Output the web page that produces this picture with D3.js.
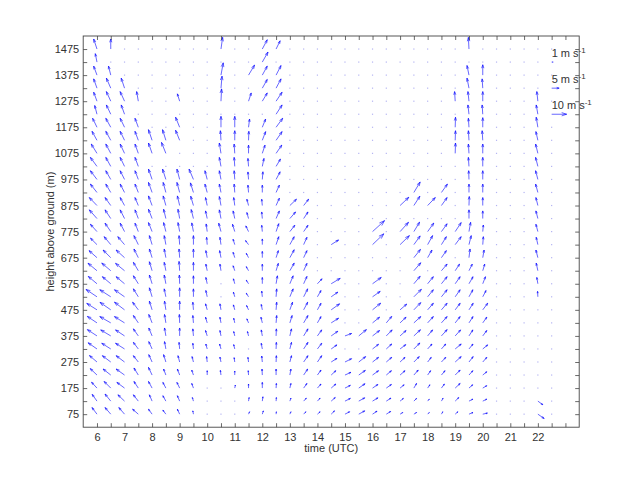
<!DOCTYPE html>
<html><head><meta charset="utf-8">
<script src="https://cdn.jsdelivr.net/npm/d3@7"></script>
<style>
body{margin:0;background:#fff}
text{font-family:"Liberation Sans",Arial,Helvetica,sans-serif}
</style>
</head><body>
<svg id="chart" width="640" height="480"></svg>
<script>
// ---- data ----
const times = [6,6.5,7,7.5,8,8.5,9,9.5,10,10.5,11,11.5,12,12.5,13,13.5,14,14.5,15,15.5,16,16.5,17,17.5,18,18.5,19,19.5,20,20.5,21,21.5,22,22.5];
const heights = [75,125,175,225,275,325,375,425,475,525,575,625,675,725,775,825,875,925,975,1025,1075,1125,1175,1225,1275,1325,1375,1425,1475];
const _ = null;
// eastward component (m/s), one row per time, heights bottom -> top
const U = [
 [-3.3,-3.2,-3.6,-4.5,-5,-5.9,-6.4,-6.4,-6.8,-7.3,-5.8,-6,-5.3,-4.3,-4.4,-5.1,-5.1,-4.4,-4.4,-4.4,-3.8,-3.3,-2.9,-1.5,-2.2,-2.2,-2.2,-1.1,-2.2],
 [-3.8,-3.8,-4.4,-5.1,-5.6,-6,-6.7,-7.3,-7.2,-7.3,-5.6,-6,-5.1,-4.4,-3.8,-3.8,-3.8,-3.3,-3.3,-3.3,-3.3,-3.3,-3.3,-2.9,-2.9,-2.9,-1.5,_,0],
 [-3.8,-4.4,-5.1,-5.6,-5.6,-6,-6,-6.7,-6.7,-6.7,-5.6,-6,-5.6,-4.5,-2.9,-2.9,-2.9,-2.9,-2.9,-2.9,-2.9,-2.9,-2.9,-2.2,-2.9,-2.2,_,_,_],
 [-3.8,-3.3,-2.9,-2.9,-3.3,-3.3,-3.3,-3.3,-3.8,-3.3,-3.3,-3.3,-2.9,-2.9,-2.2,-2.2,-2.2,-2.2,-2.2,-2.2,-2.2,-2.2,-2.2,_,-1.1,_,_,_,_],
 [-2.4,-1.8,-2.4,-2.4,-2.2,-2.2,-2.2,-2.2,-1.8,-1.8,-1.8,-1.8,-1.8,-1.8,-2.4,-2.4,-2.4,-2.4,-2.4,_,-2.4,-2.4,_,_,_,_,_,_,_],
 [-2,-2,-2,-1.5,-1.5,-0.9,-0.9,-0.9,-0.9,-1.1,-1.1,-1.1,-1.1,-1.1,-1.5,-1.5,-1.8,-1.8,-2.2,_,-2.9,-2.2,_,_,_,_,_,_,_],
 [-1.5,-1.5,-1.8,-1.5,-1.1,-0.4,0,-0.2,0,0,-0.2,-0.4,-0.4,-0.4,-1.1,-1.1,-1.5,-1.8,-1.8,_,_,-2.7,-2.7,_,-1.5,_,_,_,_],
 [-0.4,-0.7,-1.1,-1.1,-0.9,-0.4,-0.4,-0.4,-0.4,0,0,0,0,0,-1.1,-1.5,-1.8,-2,-2.9,_,_,_,_,_,_,_,_,_,_],
 [_,_,_,0,-0.4,-0.9,-1.1,-1.1,-1.1,-0.9,-0.9,-0.9,-0.9,-0.4,-0.7,-1.1,-1.1,-1.5,-1.5,_,_,_,_,_,_,_,_,_,_],
 [_,_,_,-0.4,-0.7,-0.9,-0.7,-0.7,-0.7,_,_,-0.7,-0.9,-0.7,-1.5,-1.1,-1.1,-1.1,-1.1,-1.1,-1.1,-0.4,0,_,0.4,0.7,1.5,_,1.1],
 [_,_,0.4,0,-0.4,-0.7,-0.7,-0.7,-0.9,-0.9,-0.9,-1.1,-1.1,-1.1,-1.5,-1.1,-0.7,-0.4,-0.4,-0.4,-0.4,0,0,_,_,_,_,_,_],
 [0.7,0.4,0,-0.2,-0.4,_,-0.7,-1.1,-1.3,-1.5,-1.5,-1.5,-1.5,-2,-1.8,-1.1,-1.1,-0.4,-0.4,-0.4,0,0.2,0.7,_,1.8,_,4,_,_],
 [0.7,0.4,0,-0.2,-0.4,-0.7,-0.7,-0.9,-0.7,-0.4,0,0,0,0,-0.4,-0.4,-0.4,0,0.4,1.1,1.8,2.2,2.2,_,3.3,3.3,3.3,3.8,3.3],
 [0.2,0.2,0.2,0,0.2,0.2,0.2,0.4,0.4,0.4,0.9,1.5,1.5,1.8,1.8,2.2,2.2,2.2,2.7,2.9,3.8,4,4.4,4,4,3.3,3.3,_,2.7],
 [0.7,0.7,0.7,0.7,1.1,1.1,1.1,1.5,1.8,2.2,2.2,2.9,2.9,2.9,3.3,3.8,4.4,_,_,_,_,_,_,_,_,_,_,_,_],
 [1.5,1.8,2.2,2.7,2.9,2.9,2.9,2.9,2.7,2.7,2.2,2.2,2.2,2.2,2.9,2.9,3.3,_,_,_,_,_,_,_,_,_,_,_,_],
 [1.8,1.8,2.4,2.4,2.9,2.9,2.9,2.4,2.4,2.4,3.1,_,_,_,_,_,_,_,_,_,_,_,_,_,_,_,_,_,_],
 [2.2,2.7,3.1,3.1,3.8,3.8,4.4,4.9,5.6,4.4,6,_,_,4.9,_,_,_,_,_,_,_,_,_,_,_,_,_,_,_],
 [3.1,3.6,3.6,4,4.4,_,4.4,_,_,_,_,_,_,_,_,_,_,_,_,_,_,_,_,_,_,_,_,_,_],
 [4,4,4.2,4.4,4.6,_,5.1,_,_,_,_,_,_,_,_,_,_,_,_,_,_,_,_,_,_,_,_,_,_],
 [3,3.6,3.6,4,4,4,4.7,4.7,5.4,5.1,5.8,_,_,7.5,8,_,_,_,_,_,_,_,_,_,_,_,_,_,_],
 [2.9,3.1,3.4,3.4,3.6,3.6,3.9,3.6,_,_,_,_,_,_,_,_,_,_,_,_,_,_,_,_,_,_,_,_,_],
 [1.8,2.2,2.7,3.3,3.3,3.8,4,4,4.4,_,_,_,_,6.2,5.6,_,5.8,_,_,_,_,_,_,_,_,_,_,_,_],
 [1.8,1.8,1.8,2.9,3.6,4,4.4,4.6,4.6,5,4.2,4.6,4.4,4.2,3.8,_,4,4.2,_,_,_,_,_,_,_,_,_,_,_],
 [1.1,1.1,1.5,2,2.4,2.9,3.3,3.8,3.8,3.8,3.8,_,2.9,3.3,4.1,_,5.1,_,_,_,_,_,_,_,_,_,_,_,_],
 [0.9,1.1,2,2.4,2.9,2.9,3.8,3.8,3.8,3.8,3.8,3.8,3.3,3.3,3.8,_,3.8,4,_,_,_,_,_,_,_,_,_,_,_],
 [1.8,2.4,3.3,3.3,4,4,3.6,3.3,3.3,3.3,3.3,2.9,_,4,4,_,_,_,_,_,0.2,0.2,0.2,_,-0.4,_,_,_,_],
 [2.7,2.6,2.5,2.6,2.8,2.7,2.6,2.7,2.8,2.6,2.7,2.2,0.7,1.5,1.1,0,0.2,0,-0.2,-0.4,-0.4,-0.4,-0.4,-0.7,-0.7,-1.3,-1.3,_,-0.4],
 [3.1,2.7,2.7,2.7,2.7,3.3,2.7,2.7,3.3,2.2,1.8,1.3,0.9,0.4,0.4,0,0,0,0,0,0,-0.4,0,-0.4,0,-0.4,0,_,_],
 null,
 null,
 null,
 [4.2,3.3,_,_,_,_,_,_,_,-0.2,-0.7,-1.1,-1.3,-1.1,-1.3,-1.3,-1.3,-1.5,-1.5,-1.5,-1.5,-1.3,-1.1,-1.1,-0.7,_,_,_,_],
 null
];
// northward component (m/s)
const V = [
 [4.4,4.5,3.9,4.3,4.3,4.1,4.2,4.3,4.3,4.9,4.9,5,4.7,4.3,4.9,5.8,5.3,5.6,5.8,6,6.2,6,6,5.8,6,6.2,6,5.6,6.7],
 [4.4,4.7,4.4,4,4.2,3.8,4,4.2,5,4.7,4.7,5.1,5.1,5.3,5.6,5.8,5.3,5.6,5.8,6,6.2,6,6,6.2,6.4,6.7,6,_,6.7],
 [4.4,4.2,3.8,4,4.2,3.8,4,4.2,5.1,4.7,4.7,4.9,5.1,5.3,5.6,5.8,5.3,5.6,5.8,6,6.2,6,6,6.2,6.4,6.7,_,_,_],
 [3.3,4.2,4.4,4.7,4.2,4.4,4.7,4.9,5.1,5.3,5.3,5.6,5.8,6,5.6,5.8,5.3,5.6,5.8,6,6.2,6,6,_,6.4,_,_,_,_],
 [3.3,4.2,4.4,5.1,4.9,4.9,5.3,5.6,5.8,6,5.8,6,5.8,6,6,6.2,6.4,6.7,6.9,_,6.9,7.1,_,_,_,_,_,_,_],
 [2.7,3.6,3.8,4,4.9,4.9,5.3,5.6,5.8,5.3,5.8,5.6,5.8,6,6,6.2,6.4,6.7,6.9,_,7.3,7.1,_,_,_,_,_,_,_],
 [3.3,3.6,3.8,4,4.2,4.4,5.3,5.6,5.8,6,5.8,6.2,5.8,6,6,6.2,6.4,6.7,6.9,_,_,6.7,6.7,_,4.9,_,_,_,_],
 [2.2,2.4,3.1,3.3,3.6,3.8,4.7,4.9,5.1,5.3,5.3,5.6,5.8,6,5.8,6,6.2,6.4,6.9,_,_,_,_,_,_,_,_,_,_],
 [_,_,_,2.9,3.6,3.3,3.6,3.8,4,4.2,4.2,4.4,4.7,4.9,5.1,5.1,5.3,5.6,5.8,_,_,_,_,_,_,_,_,_,_],
 [_,_,_,3.1,3.3,3.3,3.6,3.8,4,_,_,4.4,4.7,4.9,5.6,5.8,6,5.6,5.8,6,6.9,6.4,7.3,_,8.2,8,8.2,_,7.8],
 [_,_,2,2.7,2.9,2.9,2.9,3.1,3.3,3.1,3.3,3.3,3.6,3.6,4.9,5.1,5.3,5.6,5.8,6,6.2,6.4,7.3,_,_,_,_,_,_],
 [1.6,2.4,2.7,2.9,3.1,_,2.9,2.7,2.9,2.4,2.4,2.7,2.9,2.7,3.8,4,4.2,4.9,5,5.3,5.5,6,5.5,_,5.5,_,6.7,_,_],
 [2.2,2.9,3.8,4,4,3.8,4,3.8,3.6,3.8,4.2,4.4,4.2,3.8,4.2,4.4,4.2,4.9,5.1,5.3,5.5,5.8,5.5,_,5.5,5.8,6,6.7,6.2],
 [1.6,2.4,3.1,4,4.2,4.4,4.7,4.9,5.1,5.3,5.3,4.9,4.7,5.3,5.3,5.1,4.9,4.9,5.1,4.9,5.5,5.8,6,6.2,6,6.2,6.4,_,5.5],
 [1.6,2,3.1,4,4.2,4.4,4.7,4.9,5.1,5.3,5.3,5.1,5.3,5.3,4.2,4.4,4.2,_,_,_,_,_,_,_,_,_,_,_,_],
 [1.6,2,3.1,4,4.2,4.4,4.7,4.9,5.1,5.3,4.9,4.9,4.7,4.9,4.2,4.4,4.2,_,_,_,_,_,_,_,_,_,_,_,_],
 [1.6,2,2.7,3.3,4.2,3.8,4,4.2,4.4,4.2,3.3,_,_,_,_,_,_,_,_,_,_,_,_,_,_,_,_,_,_],
 [2.2,2.4,2.7,2.9,2.4,2.7,3.1,3.1,4,3.1,3.6,_,_,3.1,_,_,_,_,_,_,_,_,_,_,_,_,_,_,_],
 [1.6,1.8,1.8,1.8,2.2,_,1.6,_,_,_,_,_,_,_,_,_,_,_,_,_,_,_,_,_,_,_,_,_,_],
 [2.2,2.2,2.9,3.1,3.6,_,4.2,_,_,_,_,_,_,_,_,_,_,_,_,_,_,_,_,_,_,_,_,_,_],
 [2,2.2,2.4,2.9,3.1,3.1,3.6,3.8,4.4,3.6,4.2,_,_,7.2,7.3,_,_,_,_,_,_,_,_,_,_,_,_,_,_],
 [1.8,2,2.4,2.9,3.1,3.3,4,4.3,_,_,_,_,_,_,_,_,_,_,_,_,_,_,_,_,_,_,_,_,_],
 [1.1,1.8,2.2,2.9,3.1,2.9,3.6,3.8,3.8,_,_,_,_,6,6.2,_,5.5,_,_,_,_,_,_,_,_,_,_,_,_],
 [1.1,1.8,3.1,3.3,3.6,4,4.1,4.2,4.8,5,5,5.3,5.5,5.8,6.3,_,6.2,7,_,_,_,_,_,_,_,_,_,_,_],
 [1.1,1.3,2.2,2.9,3.1,3.3,4,4.2,4.4,4.7,4.7,_,5.1,6,5.7,_,5.3,_,_,_,_,_,_,_,_,_,_,_,_],
 [1.6,2,2.7,2.9,3.1,3.3,4.2,4.2,4.4,4.7,4.7,4.4,4.7,5.3,5.2,_,5.3,5.6,_,_,_,_,_,_,_,_,_,_,_],
 [1.6,2.4,3.1,3.3,3.6,3.3,4,4.2,4.4,4.7,4.7,4.4,_,5.3,6,_,_,_,_,_,6.9,6.4,6.7,_,6.4,_,_,_,_],
 [1.1,1.3,2.2,2.9,3.6,3.3,4,4.2,4.4,4.7,4.7,4.4,5.8,6,6.2,5.8,6,5.6,5.8,6,6.2,6.4,6,6.2,6.4,6.7,6.4,_,7.8],
 [0.7,1.3,1.6,2.2,3.1,2.7,3.6,3.8,4.4,4.2,4.7,4.4,5.1,5.3,4.4,5.1,5.3,5.6,5.8,6,6.2,6.4,6.4,6.2,6.4,6.2,6.9,_,_],
 null,
 null,
 null,
 [-2.9,-2.4,_,_,_,_,_,_,_,3.6,4.2,5.1,5.1,4.9,4.9,5.1,5.3,5.6,5.8,6,6.2,5.8,6.7,6.2,6.4,_,_,_,_],
 null
];
const legendSpeeds = [1, 5, 10];
const legendHeights = [1425, 1325, 1225];
const legendTime = 22.5;
const legendLabels = ["1 m s", "5 m s", "10 m s"];
const xTickValues = [6,6.5,7,7.5,8,8.5,9,9.5,10,10.5,11,11.5,12,12.5,13,13.5,14,14.5,15,15.5,16,16.5,17,17.5,18,18.5,19,19.5,20,20.5,21,21.5,22,22.5,23];
const yTickValues = [75,125,175,225,275,325,375,425,475,525,575,625,675,725,775,825,875,925,975,1025,1075,1125,1175,1225,1275,1325,1375,1425,1475];
const xLabel = "time (UTC)";
const yLabel = "height above ground (m)";

// ---- drawing ----
const svg = d3.select("#chart");
const L = 83.2, R = 579.2, T = 36, B = 427.2;
const x = d3.scaleLinear().domain([5.5, 23.5]).range([L, R]);
const y = d3.scaleLinear().domain([25, 1525]).range([B, T]);
const spd = d3.scaleLinear().domain([0, 1]).range([0, 1.5]); // px per m/s
const axisCol = "#444", textCol = "#333";

svg.append("rect").attr("width",640).attr("height",480).attr("fill","#fff");

// missing-data dots
const dots = [];
times.forEach((t,i) => heights.forEach((h,j) => {
  const isLegend = t === legendTime && legendHeights.includes(h);
  if (!isLegend && (!U[i] || U[i][j] === null)) dots.push([t,h]);
}));
svg.append("g").selectAll("rect").data(dots).join("rect")
  .attr("x", d => x(d[0]) - 0.6).attr("y", d => y(d[1]) - 0.6)
  .attr("width", 1.2).attr("height", 1.2).attr("fill", "#b4b4f2");

// arrows
function arrowPath(t, h, u, v) {
  const x0 = x(t), y0 = y(h);
  const dx = spd(u), dy = -spd(v);
  const x1 = x0 + dx, y1 = y0 + dy;
  const a = 0.33, b = 0.33;
  const hx1 = x1 - a*(dx + b*dy), hy1 = y1 - a*(dy - b*dx);
  const hx2 = x1 - a*(dx - b*dy), hy2 = y1 - a*(dy + b*dx);
  return `M${x0},${y0}L${x1},${y1}M${hx1},${hy1}L${x1},${y1}L${hx2},${hy2}`;
}
const arrows = [];
times.forEach((t,i) => {
  if (!U[i]) return;
  heights.forEach((h,j) => {
    if (U[i][j] !== null && V[i][j] !== null) arrows.push([t,h,U[i][j],V[i][j]]);
  });
});
legendSpeeds.forEach((s,k) => arrows.push([legendTime, legendHeights[k], s, 0]));

svg.append("g").attr("fill","none").attr("stroke","#0000ff").attr("stroke-width",0.6)
  .selectAll("path").data(arrows).join("path")
  .attr("d", d => arrowPath(d[0], d[1], d[2], d[3]));

// legend labels
const lg = svg.append("g").attr("fill", textCol).attr("font-size", 11);
legendLabels.forEach((lab,k) => {
  const tx = lg.append("text").attr("x", x(legendTime)).attr("y", y(legendHeights[k]) - 5.5);
  tx.append("tspan").text(lab);
  tx.append("tspan").attr("font-size", 8).attr("dy", -4).text("-1");
});

// axes (ticks inside)
const fmtX = d => Number.isInteger(d) && d <= 22 ? String(d) : "";
const gB = svg.append("g").attr("transform",`translate(0,${B})`)
  .call(d3.axisBottom(x).tickValues(xTickValues).tickSize(-4).tickPadding(6).tickFormat(fmtX));
const gT = svg.append("g").attr("transform",`translate(0,${T})`)
  .call(d3.axisTop(x).tickValues(xTickValues).tickSize(-4).tickFormat(""));
const fmtY = d => (d - 75) % 100 === 0 ? String(d) : "";
const gL = svg.append("g").attr("transform",`translate(${L},0)`)
  .call(d3.axisLeft(y).tickValues(yTickValues).tickSize(-4).tickPadding(4).tickFormat(fmtY));
const gR = svg.append("g").attr("transform",`translate(${R},0)`)
  .call(d3.axisRight(y).tickValues(yTickValues).tickSize(-4).tickFormat(""));
[gB,gT,gL,gR].forEach(g => {
  g.select(".domain").remove();
  g.selectAll(".tick line").attr("stroke", axisCol).attr("stroke-width", 0.8);
  g.selectAll(".tick text").attr("fill", textCol).attr("font-size", 11)
    .attr("font-family", '"Liberation Sans",Arial,sans-serif');
});

svg.append("rect").attr("x", L).attr("y", T).attr("width", R - L).attr("height", B - T)
  .attr("fill","none").attr("stroke", axisCol).attr("stroke-width", 0.9);

svg.append("text").attr("x", (L+R)/2).attr("y", 452).attr("text-anchor","middle")
  .attr("fill", textCol).attr("font-size", 11).text(xLabel);
svg.append("text").attr("transform", `translate(54,${(T+B)/2}) rotate(-90)`)
  .attr("text-anchor","middle").attr("fill", textCol).attr("font-size", 11).text(yLabel);
</script>
</body></html>
